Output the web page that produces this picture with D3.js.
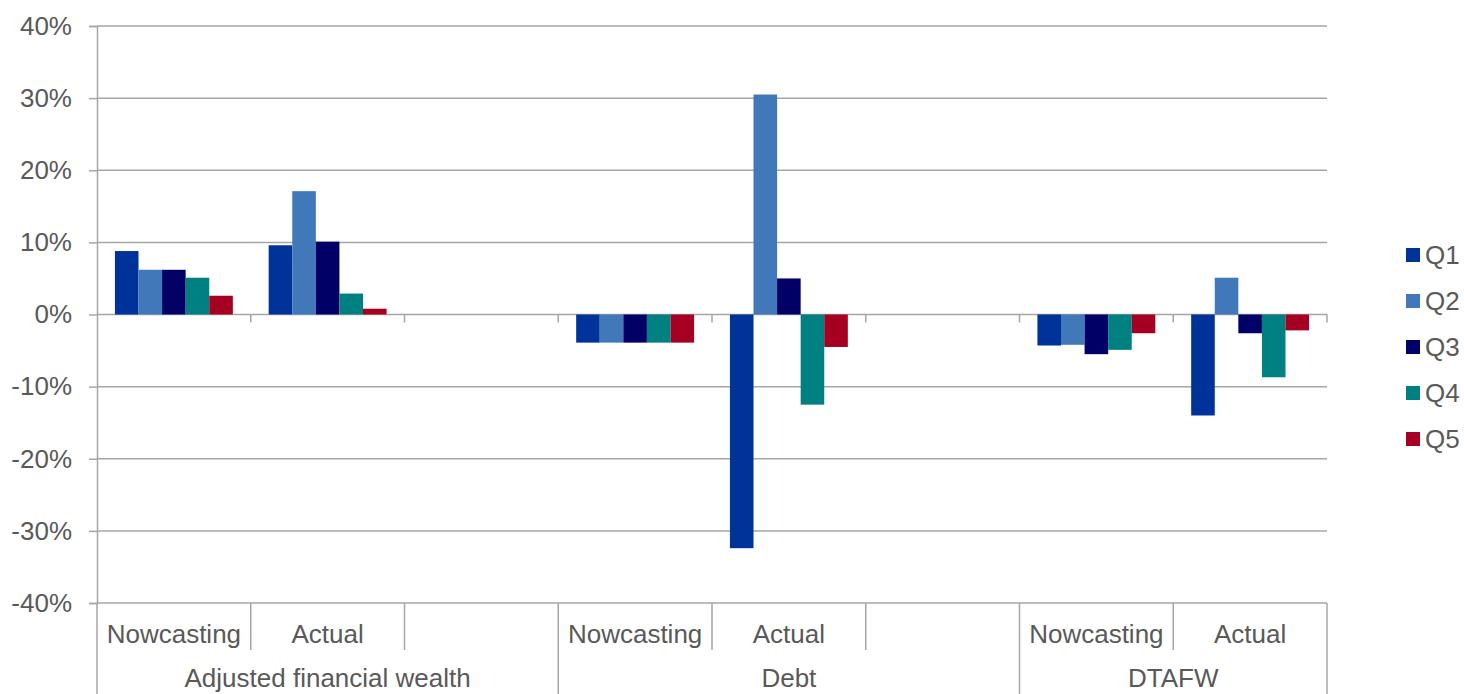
<!DOCTYPE html>
<html>
<head>
<meta charset="utf-8">
<script src="https://cdn.jsdelivr.net/npm/d3@7"></script>
<style>
  body { margin: 0; background: #fff; }
  svg text { font-family: "Liberation Sans", Arial, sans-serif; fill: #595959; }
</style>
</head>
<body>
<svg id="chart" width="1464" height="694"></svg>
<script>
// groups and the slots under them (empty label = spacer slot)
var groups = ["Adjusted financial wealth", "Debt", "DTAFW"]
var slotGroups = [0, 0, 0, 1, 1, 1, 2, 2]
var slotLabels = ["Nowcasting", "Actual", "", "Nowcasting", "Actual", "", "Nowcasting", "Actual"]

var seriesNames = ["Q1", "Q2", "Q3", "Q4", "Q5"]
var seriesColors = ["#003399", "#4078b9", "#000066", "#008080", "#a50021"]

// values in %, null for the empty slots
var q1 = [8.8, 9.6, null, -3.9, -32.4, null, -4.3, -14.0]
var q2 = [6.2, 17.1, null, -3.9, 30.5, null, -4.2, 5.1]
var q3 = [6.2, 10.1, null, -3.9, 5.0, null, -5.5, -2.6]
var q4 = [5.1, 2.9, null, -3.9, -12.5, null, -4.9, -8.7]
var q5 = [2.6, 0.8, null, -3.9, -4.5, null, -2.6, -2.2]
var seriesValues = [q1, q2, q3, q4, q5]

var yTicks = [-40, -30, -20, -10, 0, 10, 20, 30, 40]

var svg = d3.select("#chart")
var plotLeft = 97, plotRight = 1327, plotTop = 26, plotBottom = 603
var gridColor = "#a6a6a6"
var fontSize = "26px"

var x0 = d3.scaleBand()
    .domain(d3.range(slotLabels.length))
    .range([plotLeft, plotRight])
    .padding(0)

var x1 = d3.scaleBand()
    .domain(seriesNames)
    .range([0, x0.bandwidth()])
    .paddingInner(0)
    .paddingOuter(0.76)

var y = d3.scaleLinear().domain([-40, 40]).range([plotBottom, plotTop])

// gridlines
svg.append("g")
    .selectAll("line")
    .data(yTicks)
    .enter().append("line")
    .attr("x1", plotLeft).attr("x2", plotRight)
    .attr("y1", function(d) { return y(d) }).attr("y2", function(d) { return y(d) })
    .attr("stroke", gridColor)
    .attr("stroke-width", 1.5)

// y axis
var yAxis = svg.append("g")
    .attr("transform", "translate(" + plotLeft + ",0)")
    .call(d3.axisLeft(y).tickValues(yTicks).tickSize(8).tickPadding(17)
        .tickFormat(function(d) { return d + "%" }))
yAxis.select(".domain").attr("stroke", gridColor).attr("stroke-width", 1.5)
yAxis.selectAll(".tick line").attr("stroke", gridColor).attr("stroke-width", 1.5)
yAxis.selectAll(".tick text").style("font-size", fontSize).attr("fill", "#595959")
yAxis.attr("font-family", null)

// bars
var slotsG = svg.append("g")
    .selectAll("g")
    .data(slotLabels.map(function(l, i) { return i }))
    .enter().append("g")
    .attr("transform", function(i) { return "translate(" + x0(i) + ",0)" })

slotsG.selectAll("rect")
    .data(function(i) {
        return seriesNames.map(function(s, k) {
            return {name: s, value: seriesValues[k][i], color: seriesColors[k]}
        }).filter(function(d) { return d.value != null })
    })
    .enter().append("rect")
    .attr("x", function(d) { return x1(d.name) })
    .attr("width", x1.bandwidth())
    .attr("y", function(d) { return y(Math.max(0, d.value)) })
    .attr("height", function(d) { return Math.abs(y(d.value) - y(0)) })
    .attr("fill", function(d) { return d.color })

// small ticks on the zero line at slot edges
var edges = d3.range(1, slotLabels.length + 1).map(function(i) { return x0.step() * i + plotLeft })
svg.append("g")
    .selectAll("line")
    .data(edges)
    .enter().append("line")
    .attr("x1", function(d) { return d }).attr("x2", function(d) { return d })
    .attr("y1", y(0)).attr("y2", y(0) + 8)
    .attr("stroke", gridColor).attr("stroke-width", 1.5)

// category axis below the plot
var allEdges = [plotLeft].concat(edges)
svg.append("g")
    .selectAll("line")
    .data(allEdges)
    .enter().append("line")
    .attr("x1", function(d) { return d }).attr("x2", function(d) { return d })
    .attr("y1", plotBottom)
    .attr("y2", function(d, i) {
        var isGroupEdge = i === 0 || i === slotLabels.length || slotGroups[i] !== slotGroups[i - 1]
        return isGroupEdge ? 694 : 650
    })
    .attr("stroke", gridColor).attr("stroke-width", 1.5)

svg.append("g")
    .selectAll("text")
    .data(slotLabels)
    .enter().append("text")
    .attr("x", function(d, i) { return x0(i) + x0.bandwidth() / 2 })
    .attr("y", 643)
    .attr("text-anchor", "middle")
    .style("font-size", fontSize)
    .text(function(d) { return d })

svg.append("g")
    .selectAll("text")
    .data(groups)
    .enter().append("text")
    .attr("x", function(d, g) {
        var idx = slotGroups.map(function(v, i) { return v === g ? i : -1 }).filter(function(i) { return i >= 0 })
        return (x0(idx[0]) + x0(idx[idx.length - 1]) + x0.bandwidth()) / 2
    })
    .attr("y", 687)
    .attr("text-anchor", "middle")
    .style("font-size", fontSize)
    .text(function(d) { return d })

// legend
var legend = svg.append("g")
    .selectAll("g")
    .data(seriesNames)
    .enter().append("g")
    .attr("transform", function(d, i) { return "translate(1406," + (255 + i * 46) + ")" })

legend.append("rect")
    .attr("x", 0).attr("y", -7)
    .attr("width", 14).attr("height", 14)
    .attr("fill", function(d, i) { return seriesColors[i] })

legend.append("text")
    .attr("x", 19).attr("y", 9)
    .style("font-size", fontSize)
    .text(function(d) { return d })
</script>
</body>
</html>
